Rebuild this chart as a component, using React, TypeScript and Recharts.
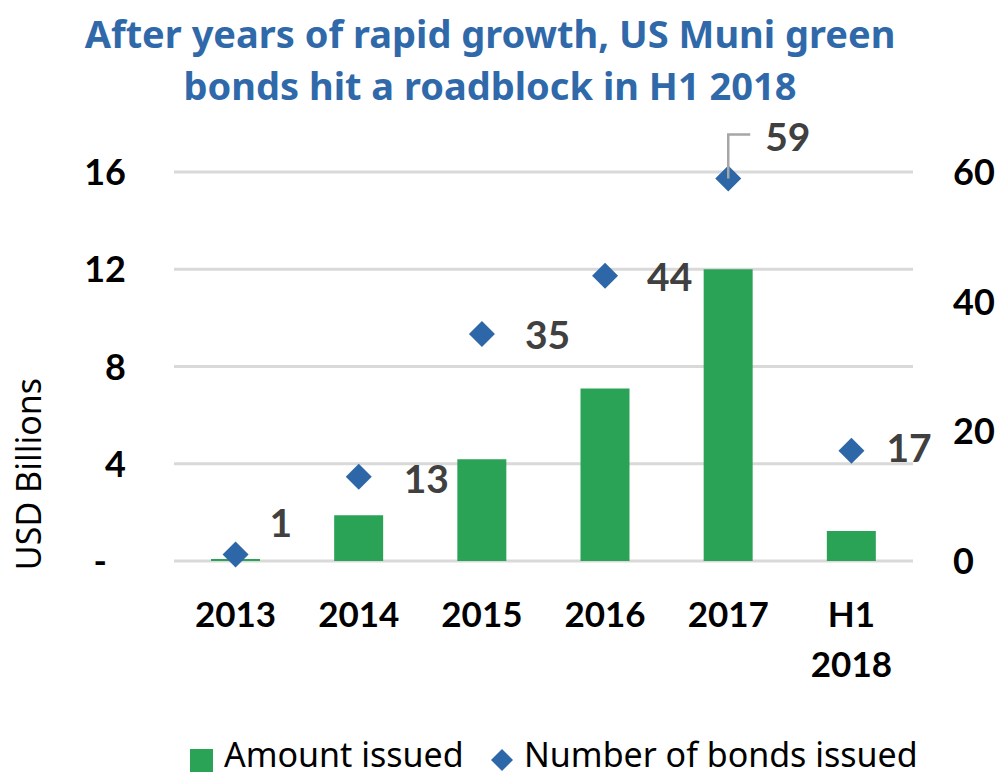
import React from 'react';
import { ComposedChart, Bar, Line, XAxis, YAxis, CartesianGrid, Legend, LabelList } from 'recharts';

const categories = ['2013', '2014', '2015', '2016', '2017', 'H1 2018'];
const amountIssued = [0.08, 1.88, 4.18, 7.1, 12.0, 1.23];
const bondsIssued = [1, 13, 35, 44, 59, 17];
const leftTicks = [0, 4, 8, 12, 16];
const rightTicks = [0, 20, 40, 60];
const titleLines = ['After years of rapid growth, US Muni green', 'bonds hit a roadblock in H1 2018'];
const seriesNames = ['Amount issued', 'Number of bonds issued'];
const leaderLineFor = ['2017'];

// label nudges (dx, dy) relative to each diamond, as placed in the original
const labelNudge = [[34, -32], [45, 2], [43, 1], [42, 1], [37, -41], [35, -3]];

const data = categories.map((name, i) => ({ name, amount: amountIssued[i], bonds: bondsIssued[i] }));

const GREEN = '#2AA357';
const BLUE = '#2E67A8';
const FONT = 'Lato, sans-serif';
const SOFT_FONT = '"Noto Sans", sans-serif';

const LeftTick = ({ x, y, payload }: any) => (
  <text x={payload.value === 0 ? x - 19 : x} y={y + 13} textAnchor="end" fontFamily={FONT} fontWeight={700} fontSize={36} fill="#000">
    {payload.value === 0 ? '-' : payload.value}
  </text>
);

const RightTick = ({ x, y, payload }: any) => (
  <text x={x} y={y + 13} textAnchor="start" fontFamily={FONT} fontWeight={700} fontSize={36} fill="#000">
    {payload.value}
  </text>
);

const CategoryTick = ({ x, y, payload }: any) => {
  const lines = String(payload.value).split(' ');
  return (
    <text textAnchor="middle" fontFamily={FONT} fontWeight={700} fontSize={35} fill="#000">
      {lines.map((l, i) => (
        <tspan key={i} x={x} y={y + 66 + i * 50}>{l}</tspan>
      ))}
    </text>
  );
};

const Diamond = ({ cx, cy, index }: any) => (
  <polygon key={index} points={`${cx},${cy - 13} ${cx + 13},${cy} ${cx},${cy + 13} ${cx - 13},${cy}`} fill={BLUE} />
);

const BondsLabel = (props: any) => {
  const { value, index } = props;
  const vb = props.viewBox || {};
  const x = props.x ?? vb.x;
  const y = props.y ?? vb.y;
  const [dx, dy] = labelNudge[index];
  return (
    <g>
      {leaderLineFor.includes(categories[index]) && (
        <polyline points={`${x},${y} ${x},${y - 44} ${x + 22},${y - 44}`} fill="none" stroke="#A6A6A6" strokeWidth={2.5} />
      )}
      <text x={x + dx} y={y + dy + 14} fontFamily={FONT} fontWeight={700} fontSize={39} fill="#404040">
        {value}
      </text>
    </g>
  );
};

const AxisTitle = ({ viewBox }: any) => {
  const x = viewBox.x + 41;
  const y = viewBox.y + viewBox.height - 87;
  return (
    <text x={x} y={y} transform={`rotate(-90, ${x}, ${y})`} textAnchor="middle" fontFamily={SOFT_FONT} fontSize={34} fill="#000">
      USD Billions
    </text>
  );
};

const LegendContent = () => (
  <div style={{ position: 'relative', width: 996, height: 40, fontFamily: SOFT_FONT, fontSize: 34, color: '#000', lineHeight: '36px' }}>
    <span style={{ position: 'absolute', left: 190, top: 16, width: 23, height: 23, background: GREEN }} />
    <span style={{ position: 'absolute', left: 224, top: 3, whiteSpace: 'nowrap' }}>{seriesNames[0]}</span>
    <svg style={{ position: 'absolute', left: 490, top: 15 }} width={24} height={24}>
      <polygon points="12,1 23,12 12,23 1,12" fill={BLUE} />
    </svg>
    <span style={{ position: 'absolute', left: 524, top: 3, whiteSpace: 'nowrap' }}>{seriesNames[1]}</span>
  </div>
);

export default function App() {
  return (
    <div style={{ position: 'absolute', left: 0, top: 0, width: 996, height: 773, background: '#fff' }}>
      <svg style={{ position: 'absolute', left: 0, top: 0, zIndex: 1 }} width={996} height={120}>
        {titleLines.map((t, i) => (
          <text key={i} x={490} y={48 + i * 52} textAnchor="middle" fontFamily={SOFT_FONT} fontWeight={700} fontSize={38} fill="#2F69AA">
            {t}
          </text>
        ))}
      </svg>
      <ComposedChart width={996} height={773} data={data} margin={{ top: 172, right: 0, bottom: 0, left: 0 }}>
        <CartesianGrid yAxisId="left" horizontal vertical={false} stroke="#D9D9D9" strokeWidth={3} />
        <XAxis dataKey="name" height={172} axisLine={false} tickLine={false} tickSize={0} tickMargin={0} interval={0} tick={<CategoryTick />} />
        <YAxis
          yAxisId="left"
          orientation="left"
          width={174}
          domain={[0, 16]}
          ticks={leftTicks}
          interval={0}
          axisLine={false}
          tickLine={false}
          tickSize={0}
          tickMargin={48}
          tick={<LeftTick />}
          label={{ content: <AxisTitle /> }}
        />
        <YAxis
          yAxisId="right"
          orientation="right"
          width={83}
          domain={[0, 60]}
          ticks={rightTicks}
          interval={0}
          axisLine={false}
          tickLine={false}
          tickSize={0}
          tickMargin={40}
          tick={<RightTick />}
        />
        <Legend verticalAlign="bottom" content={<LegendContent />} />
        <Bar yAxisId="left" dataKey="amount" name={seriesNames[0]} fill={GREEN} barSize={49} isAnimationActive={false} />
        <Line
          yAxisId="right"
          dataKey="bonds"
          name={seriesNames[1]}
          stroke="none"
          dot={<Diamond />}
          activeDot={false}
          isAnimationActive={false}
        >
          <LabelList dataKey="bonds" content={<BondsLabel />} />
        </Line>
      </ComposedChart>
    </div>
  );
}
